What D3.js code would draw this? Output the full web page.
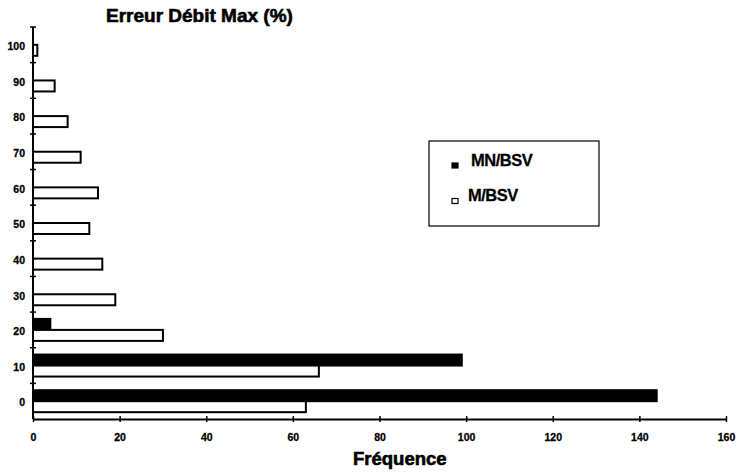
<!DOCTYPE html>
<html>
<head>
  <meta charset="utf-8">
  <title>Erreur Débit Max</title>
  <script src="https://d3js.org/d3.v7.min.js"></script>
  <style>
    body { margin: 0; background: #fff; }
    text { font-family: "Liberation Sans", Arial, sans-serif; fill: #000; }
    .tick-label { font-size: 10.5px; font-weight: bold; stroke: #000; stroke-width: 0.3px; }
    .heavy { font-weight: bold; stroke: #000; stroke-width: 0.6px; }
  </style>
</head>
<body>
  <svg id="chart" width="739" height="474"></svg>

  <script>
    // Data
    var categories = [0, 10, 20, 30, 40, 50, 60, 70, 80, 90, 100];
    var seriesNames = ["MN/BSV", "M/BSV"];
    var mnBsv = [144, 99, 4, 0, 0, 0, 0, 0, 0, 0, 0];
    var mBsv = [63, 66, 30, 19, 16, 13, 15, 11, 8, 5, 1];
    var xTicks = [0, 20, 40, 60, 80, 100, 120, 140, 160];

    var svg = d3.select("#chart");

    // plot area in page pixels
    var plotLeft = 33, plotRight = 726, plotTop = 27, plotBottom = 419;

    var x = d3.scaleLinear().domain([0, 160]).range([plotLeft, plotRight]);

    var y = d3.scaleBand()
      .domain(categories.slice().reverse())
      .range([plotTop, plotBottom])
      .padding(0);

    var ySub = d3.scaleBand()
      .domain(seriesNames)
      .range([0, y.bandwidth()])
      .paddingInner(0)
      .paddingOuter(0.62);

    var rows = categories.map(function(c, i) {
      return { cat: c, values: [
        { name: "MN/BSV", v: mnBsv[i] },
        { name: "M/BSV", v: mBsv[i] }
      ]};
    });

    // bars
    var groups = svg.append("g").selectAll("g")
      .data(rows)
      .enter().append("g")
      .attr("transform", function(d) { return "translate(0," + y(d.cat) + ")"; });

    groups.selectAll("rect")
      .data(function(d) { return d.values.filter(function(s) { return s.v > 0; }); })
      .enter().append("rect")
      .attr("x", x(0))
      .attr("y", function(s) { return ySub(s.name); })
      .attr("width", function(s) { return x(s.v) - x(0); })
      .attr("height", ySub.bandwidth())
      .attr("fill", function(s) { return s.name === "MN/BSV" ? "#000" : "#fff"; })
      .attr("stroke", "#000")
      .attr("stroke-width", 2);

    // x axis
    var xAxis = svg.append("g")
      .attr("transform", "translate(0," + plotBottom + ")")
      .call(d3.axisBottom(x).tickValues(xTicks).tickSizeInner(3).tickSizeOuter(0).tickPadding(12));
    xAxis.select(".domain").attr("stroke", "#000").attr("stroke-width", 2);
    xAxis.selectAll(".tick line").attr("y1", -3).attr("stroke-width", 1.5);
    xAxis.selectAll(".tick text").attr("class", "tick-label").attr("font-family", null).attr("font-size", null);

    // y axis (labels at band centre, ticks on band boundaries)
    var yAxis = svg.append("g")
      .attr("transform", "translate(" + plotLeft + ",0)")
      .call(d3.axisLeft(y).tickSize(0).tickPadding(8));
    yAxis.select(".domain").remove();
    yAxis.selectAll(".tick text").attr("class", "tick-label").attr("font-family", null).attr("font-size", null)
      .attr("dy", "0.5em");

    svg.append("line")
      .attr("x1", plotLeft).attr("x2", plotLeft)
      .attr("y1", plotTop).attr("y2", plotBottom)
      .attr("stroke", "#000").attr("stroke-width", 2);

    var bounds = categories.map(function(c) { return y(c); });
    svg.append("g").selectAll("line")
      .data(bounds)
      .enter().append("line")
      .attr("x1", plotLeft - 3).attr("x2", plotLeft + 3)
      .attr("y1", function(d) { return d; })
      .attr("y2", function(d) { return d; })
      .attr("stroke", "#000").attr("stroke-width", 1.5);

    // titles
    svg.append("text")
      .attr("class", "heavy")
      .attr("x", 106).attr("y", 22)
      .style("font-size", "19px")
      .text("Erreur Débit Max (%)");

    svg.append("text")
      .attr("class", "heavy")
      .attr("x", 353).attr("y", 465)
      .style("font-size", "18.5px")
      .text("Fréquence");

    // legend
    var legend = svg.append("g").attr("transform", "translate(429,141)");
    legend.append("rect")
      .attr("width", 170).attr("height", 85)
      .attr("fill", "#fff").attr("stroke", "#000").attr("stroke-width", 1.2);

    seriesNames.forEach(function(name, i) {
      var row = legend.append("g").attr("transform", "translate(23," + (24.5 + i * 35.5) + ")");
      row.append("rect")
        .attr("x", 0).attr("y", -2.5)
        .attr("width", 6).attr("height", 5)
        .attr("fill", i === 0 ? "#000" : "#fff")
        .attr("stroke", "#000").attr("stroke-width", 1.2);
      row.append("text")
        .attr("class", "heavy")
        .attr("x", i === 0 ? 19 : 16).attr("y", 0)
        .style("font-size", "16.5px")
        .style("letter-spacing", "-0.5px")
        .style("stroke-width", "0.3px")
        .text(name);
    });
  </script>
</body>
</html>
